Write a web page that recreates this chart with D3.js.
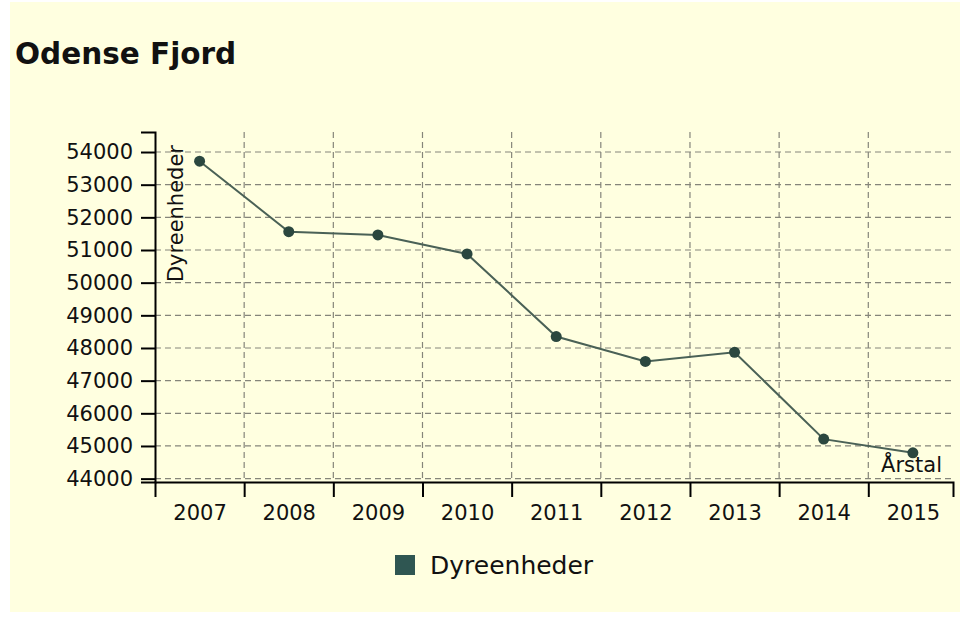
<!DOCTYPE html>
<html>
<head>
<meta charset="utf-8">
<script src="https://cdn.jsdelivr.net/npm/d3@7"></script>
<style>
  html, body { margin: 0; padding: 0; background: #ffffff; }
  svg { display: block; }
  text { font-family: "DejaVu Sans", Verdana, sans-serif; }
</style>
</head>
<body>
<svg id="chart" width="960" height="618"></svg>
<script>
// ---- data ----
const title = "Odense Fjord";
const seriesName = "Dyreenheder";
const xAxisLabel = "Årstal";
const yAxisLabel = "Dyreenheder";
const years = [2007, 2008, 2009, 2010, 2011, 2012, 2013, 2014, 2015];
const dyreenheder = [53720, 51560, 51460, 50880, 48350, 47590, 47870, 45210, 44790];
const yTicks = [44000, 45000, 46000, 47000, 48000, 49000, 50000, 51000, 52000, 53000, 54000];

(function () {
const svg = d3.select("#chart");
const W = 960, H = 618;

// panel background
svg.append("rect").attr("x", 10).attr("y", 2).attr("width", W - 10).attr("height", 610)
  .attr("fill", "#ffffe0");

const pLeft = 155, pRight = 953, pTop = 132, pBottom = 482;

const x = d3.scaleLinear().domain([years[0] - 0.5, years[years.length - 1] + 0.45]).range([pLeft, pRight]);
const ext = d3.max(dyreenheder) - d3.min(dyreenheder);
const y = d3.scaleLinear().domain([d3.min(dyreenheder) - 0.1 * ext, d3.max(dyreenheder) + 0.1 * ext]).range([pBottom, pTop]);

const boundaries = years.slice(0, -1).map(v => v + 0.5);

// title
svg.append("text").attr("x", 15).attr("y", 64)
  .style("font-weight", "bold").style("font-size", "29.5px").attr("fill", "#111")
  .text(title);

// grid
const grid = svg.append("g").attr("stroke", "#85857a").attr("stroke-width", 1.2).attr("stroke-dasharray", "6,4");
grid.selectAll("line.h").data(yTicks).join("line").attr("class", "h")
  .attr("x1", pLeft).attr("x2", pRight).attr("y1", d => y(d)).attr("y2", d => y(d));
grid.selectAll("line.v").data(boundaries).join("line").attr("class", "v")
  .attr("x1", d => x(d)).attr("x2", d => x(d)).attr("y1", pTop).attr("y2", pBottom);

// y axis
const yAxis = svg.append("g").attr("transform", `translate(${pLeft},0)`)
  .call(d3.axisLeft(y).tickValues(yTicks).tickFormat(d3.format("d")).tickSize(14).tickPadding(8));
yAxis.selectAll("text").style("font-size", "21px").attr("fill", "#111");
yAxis.selectAll("path, line").attr("stroke", "#000").attr("stroke-width", 2);

// x axis: tick marks at band boundaries, labels at years
const xAxis = svg.append("g").attr("transform", `translate(0,${pBottom})`)
  .call(d3.axisBottom(x).tickValues(boundaries).tickFormat("").tickSize(15));
xAxis.selectAll("path, line").attr("stroke", "#000").attr("stroke-width", 2);
const xLabels = svg.append("g").attr("transform", `translate(0,${pBottom})`)
  .call(d3.axisBottom(x).tickValues(years).tickFormat(d3.format("d")).tickSize(0).tickPadding(23));
xLabels.select(".domain").remove();
xLabels.selectAll("text").style("font-size", "21px").attr("fill", "#111");

// axis titles
svg.append("text").attr("transform", "rotate(-90)")
  .attr("x", -145).attr("y", 167).attr("dy", "0.76em")
  .attr("text-anchor", "end").style("font-size", "21px").attr("fill", "#111")
  .text(yAxisLabel);
svg.append("text").attr("x", 942).attr("y", pBottom - 10)
  .attr("text-anchor", "end").style("font-size", "21px").attr("fill", "#111")
  .text(xAxisLabel);

// line + points
const pts = years.map((yr, i) => ({ yr, v: dyreenheder[i] }));
svg.append("path").datum(pts)
  .attr("fill", "none").attr("stroke", "#4a6156").attr("stroke-width", 2)
  .attr("d", d3.line().x(d => x(d.yr)).y(d => y(d.v)));
svg.selectAll("circle.pt").data(pts).join("circle").attr("class", "pt")
  .attr("cx", d => x(d.yr)).attr("cy", d => y(d.v)).attr("r", 5.5)
  .attr("fill", "#2b473f");

// legend
const lg = svg.append("g");
lg.append("rect").attr("x", 395).attr("y", 555).attr("width", 20).attr("height", 20).attr("fill", "#2f5652");
lg.append("text").attr("x", 430).attr("y", 574).style("font-size", "25px").attr("fill", "#111").text(seriesName);
})();
</script>
</body>
</html>
